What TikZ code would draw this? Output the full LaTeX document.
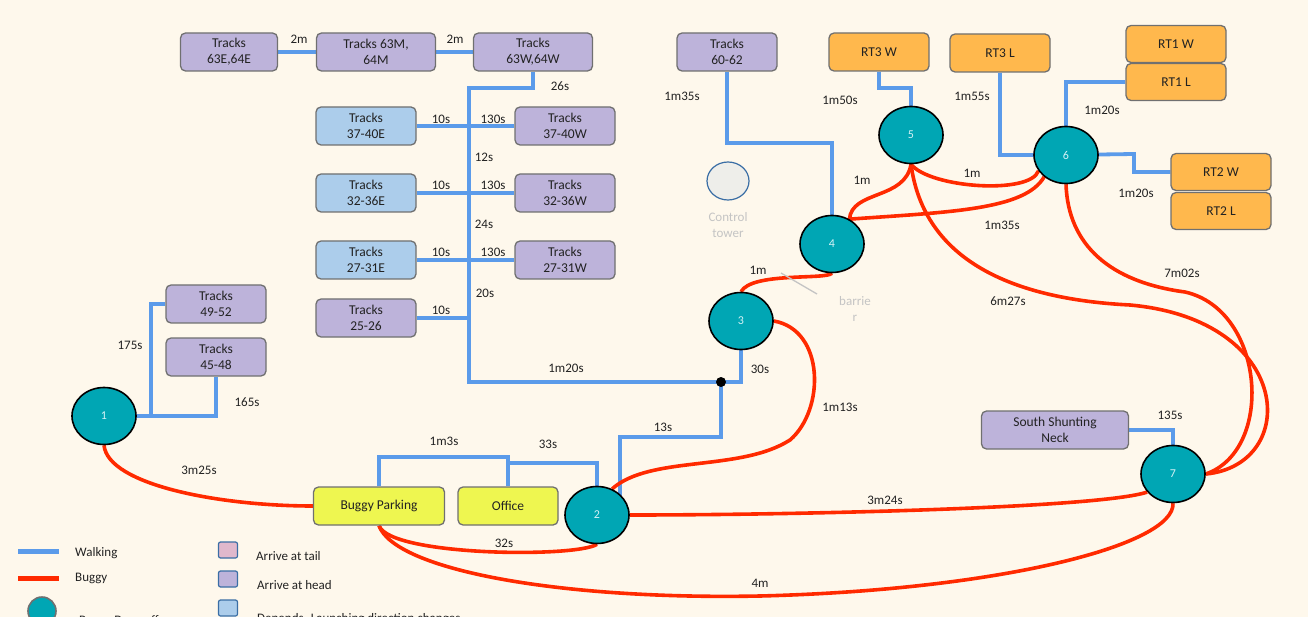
\documentclass[tikz,border=0pt]{standalone}
\usepackage{fontspec}
\setmainfont{Carlito}
\usetikzlibrary{shapes.geometric}
\pgfdeclarelayer{back}
\pgfdeclarelayer{bg}
\pgfsetlayers{back,bg,main}
\definecolor{bgc}{HTML}{FEF8EC}
\definecolor{purp}{HTML}{BDB3DA}
\definecolor{lblu}{HTML}{ACCDEB}
\definecolor{oran}{HTML}{FFB84D}
\definecolor{yell}{HTML}{EEF650}
\definecolor{teal2}{HTML}{00A6B4}
\definecolor{boxgray}{HTML}{707070}
\definecolor{walkc}{HTML}{5B9BEA}
\definecolor{buggyc}{HTML}{FF2A00}
\definecolor{txt}{HTML}{222222}
\definecolor{numc}{HTML}{D6F2F6}
\definecolor{ctb}{HTML}{3A6EA5}
\definecolor{ctf}{HTML}{EEEEEA}
\definecolor{faint}{HTML}{C4C4C4}
\definecolor{pinkc}{HTML}{E0B8CC}
\tikzset{
  box/.style={draw=boxgray, line width=1.3pt, rounded corners=5pt, minimum width=100pt,
    minimum height=38pt, align=center, font=\fontsize{13.5}{16}\selectfont, text=txt, inner sep=1pt},
  purplebox/.style={box, fill=purp},
  bluebox/.style={box, fill=lblu},
  orangebox/.style={box, fill=oran},
  yellowbox/.style={box, fill=yell},
  drop/.style={ellipse, draw=black, line width=1.6pt, fill=teal2, minimum width=64pt,
    minimum height=57pt, inner sep=0pt, text=numc, font=\fontsize{12}{13}\selectfont},
  walk/.style={draw=walkc, line width=3.8pt},
  buggy/.style={draw=buggyc, line width=3.6pt},
  lab/.style={font=\fontsize{13}{14}\selectfont, text=txt, inner sep=1pt},
  faintlab/.style={font=\fontsize{13}{16}\selectfont, text=faint, align=center, inner sep=1pt},
  sq/.style={draw=ctb, line width=1.2pt, rounded corners=2pt, minimum width=19pt, minimum height=16pt, inner sep=0pt}
}
\begin{document}
\begin{tikzpicture}[x=1pt,y=-1pt]
\useasboundingbox (0,0) rectangle (1308,617);
\clip (0,0) rectangle (1308,617);
\begin{pgfonlayer}{back}
\fill[bgc] (0,0) rectangle (1308,617);
\end{pgfonlayer}

% boxes
\node[purplebox, minimum width=97pt] (t63e) at (229,52) {Tracks\\63E,64E};
\node[purplebox, minimum width=119pt] (t63m) at (376,52) {Tracks 63M,\\64M};
\node[purplebox, minimum width=119pt] (t63w) at (533,52) {Tracks\\63W,64W};
\node[bluebox] (e37) at (366,126) {Tracks\\37-40E};
\node[purplebox] (w37) at (565,126) {Tracks\\37-40W};
\node[bluebox] (e32) at (366,193) {Tracks\\32-36E};
\node[purplebox] (w32) at (565,193) {Tracks\\32-36W};
\node[bluebox] (e27) at (366,260) {Tracks\\27-31E};
\node[purplebox] (w27) at (565,260) {Tracks\\27-31W};
\node[purplebox] (t25) at (366,318) {Tracks\\25-26};
\node[purplebox] (t49) at (216,304) {Tracks\\49-52};
\node[purplebox] (t45) at (216,357) {Tracks\\45-48};
\node[purplebox] (t60) at (727,52) {Tracks\\60-62};
\node[orangebox] (rt3w) at (879,52) {RT3 W};
\node[orangebox] (rt3l) at (1000,53) {RT3 L};
\node[orangebox, minimum height=37pt] (rt1w) at (1176,44) {RT1 W};
\node[orangebox, minimum height=37pt] (rt1l) at (1176,82) {RT1 L};
\node[orangebox, minimum height=37pt] (rt2w) at (1221,172) {RT2 W};
\node[orangebox, minimum height=37pt] (rt2l) at (1221,211) {RT2 L};
\node[purplebox, minimum width=147pt] (ssn) at (1055,430) {South Shunting\\Neck};
\node[yellowbox, minimum width=131pt] (bp) at (379,506) {Buggy Parking};
\node[yellowbox] (off) at (508,506) {Office};

% drop-off points
\node[drop] (n1) at (104,416) {1};
\node[drop] (n2) at (597,515) {2};
\node[drop] (n3) at (741,321) {3};
\node[drop] (n4) at (832,244) {4};
\node[drop] (n5) at (911,135) {5};
\node[drop] (n6) at (1066,155) {6};
\node[drop] (n7) at (1173,474) {7};

% control tower and barrier
\node[ellipse, draw=ctb, fill=ctf, line width=1.2pt, minimum width=42pt, minimum height=38pt] (ct) at (728,181) {};
\node[faintlab] (ctl) at (728,225) {Control\\tower};
\draw[draw=faint, line width=1.3pt] (781,273) -- (817,294);
\node[faintlab] (bar) at (855,309) {barrie\\r};

% coordinates
\coordinate (tb) at (469,382);
\coordinate (jd) at (721,382);
\coordinate (j2) at (620,437);
\coordinate (j1) at (151,416);
\coordinate (jo) at (508,457);
\coordinate (jo2) at (508,463);
\coordinate (j60) at (832,143);
\coordinate (j5) at (911,88);
\coordinate (j6) at (1134,154);

\begin{pgfonlayer}{bg}
% walking
\draw[walk] (t63e) -- (t63m);
\draw[walk] (t63m) -- (t63w);
\draw[walk] (t63w.south) -- ++(0,16) -| (tb) -- (jd);
\draw[walk] (jd) -| (n3.center);
\draw[walk] (jd) |- (j2) -- (j2 |- n2.center);
\foreach \b in {e37,e32,e27,t25}{\draw[walk] (\b.east) -- (\b.east -| tb);}
\foreach \b in {w37,w32,w27}{\draw[walk] (\b.west) -- (\b.west -| tb);}
\draw[walk] (n1.center) -| (t45.south);
\draw[walk] (j1) |- (t49.west);
\draw[walk] (bp.north) |- (jo) -- (off.north);
\draw[walk] (jo2) -| (n2.center);
\draw[walk] (t60.south) |- (j60) -- (n4.center);
\draw[walk] (rt3w.south) |- (j5) -- (n5.center);
\draw[walk] (rt3l.south) |- (n6.center);
\draw[walk] (rt1l.west) -| (n6.center);
\draw[walk] (n6.center) -- (j6) |- (rt2w.west);
\draw[walk] (ssn.east) -| (n7.center);
% buggy
\draw[buggy] (n1.south) .. controls (108,485) and (220,506) .. (bp.west);
\draw[buggy] (bp.south) .. controls (390,556) and (575,558) .. (n2.south);
\draw[buggy] (bp.south) .. controls (395,570) and (560,600) .. (760,596) .. controls (1000,590) and (1175,545) .. (n7.south);
\draw[buggy] (n2.east) .. controls (800,515) and (1100,508) .. (n7.215);
\draw[buggy] (n2.60) .. controls (650,455) and (740,472) .. (790,440) .. controls (825,410) and (825,330) .. (n3.east);
\draw[buggy] (n3.north) .. controls (752,272) and (825,280) .. (n4.south);
\draw[buggy] (n4.55) .. controls (852,190) and (905,200) .. (n5.south);
\draw[buggy] (n4.55) .. controls (950,212) and (1025,210) .. (n6.225);
\draw[buggy] (n5.south) .. controls (930,188) and (1030,195) .. (n6.210);
\draw[buggy] (n5.south) .. controls (925,270) and (1030,300) .. (1130,305) .. controls (1295,320) and (1300,465) .. (n7.east);
\draw[buggy] (n6.south) .. controls (1068,245) and (1110,282) .. (1185,292) .. controls (1265,310) and (1275,450) .. (n7.east);
\end{pgfonlayer}
\fill[black] (jd) circle (5pt);

% labels
\node[lab] at (299,39) {2m};
\node[lab] at (455,39) {2m};
\node[lab] at (560,86) {26s};
\node[lab] at (441,119) {10s};
\node[lab] at (493,119) {130s};
\node[lab] at (484,157) {12s};
\node[lab] at (441,185) {10s};
\node[lab] at (493,185) {130s};
\node[lab] at (484,224) {24s};
\node[lab] at (441,252) {10s};
\node[lab] at (493,252) {130s};
\node[lab] at (485,293) {20s};
\node[lab] at (441,310) {10s};
\node[lab] at (566,368) {1m20s};
\node[lab] at (760,369) {30s};
\node[lab] at (663,427) {13s};
\node[lab] at (840,407) {1m13s};
\node[lab] at (444,441) {1m3s};
\node[lab] at (548,444) {33s};
\node[lab] at (504,543) {32s};
\node[lab] at (760,583) {4m};
\node[lab] at (885,500) {3m24s};
\node[lab] at (199,470) {3m25s};
\node[lab] at (130,345) {175s};
\node[lab] at (247,402) {165s};
\node[lab] at (682,96) {1m35s};
\node[lab] at (840,100) {1m50s};
\node[lab] at (972,96) {1m55s};
\node[lab] at (1102,110) {1m20s};
\node[lab] at (1136,193) {1m20s};
\node[lab] at (862,180) {1m};
\node[lab] at (972,173) {1m};
\node[lab] at (1002,225) {1m35s};
\node[lab] at (1008,301) {6m27s};
\node[lab] at (1182,273) {7m02s};
\node[lab] at (758,270) {1m};
\node[lab] at (1170,415) {135s};

% legend
\draw[walk, line width=5pt] (18,551) -- (59,551);
\draw[buggy, line width=5pt] (18,578) -- (59,578);
\node[drop, draw=boxgray, minimum width=28pt, minimum height=28pt] (lg) at (42,611) {};
\node[lab, anchor=west] at (74,553) {Walking};
\node[lab, anchor=west] at (74,578) {Buggy};
\node[lab, anchor=west] at (78,621) {Buggy Drop-off};
\node[sq, fill=pinkc] at (228,550) {};
\node[sq, fill=purp] at (228,579) {};
\node[sq, fill=lblu] at (228,608) {};
\node[lab, anchor=west] at (255,556) {Arrive at tail};
\node[lab, anchor=west] at (256,585) {Arrive at head};
\node[lab, anchor=west] at (256,619) {Depends. Launching direction changes};
\end{tikzpicture}
\end{document}
